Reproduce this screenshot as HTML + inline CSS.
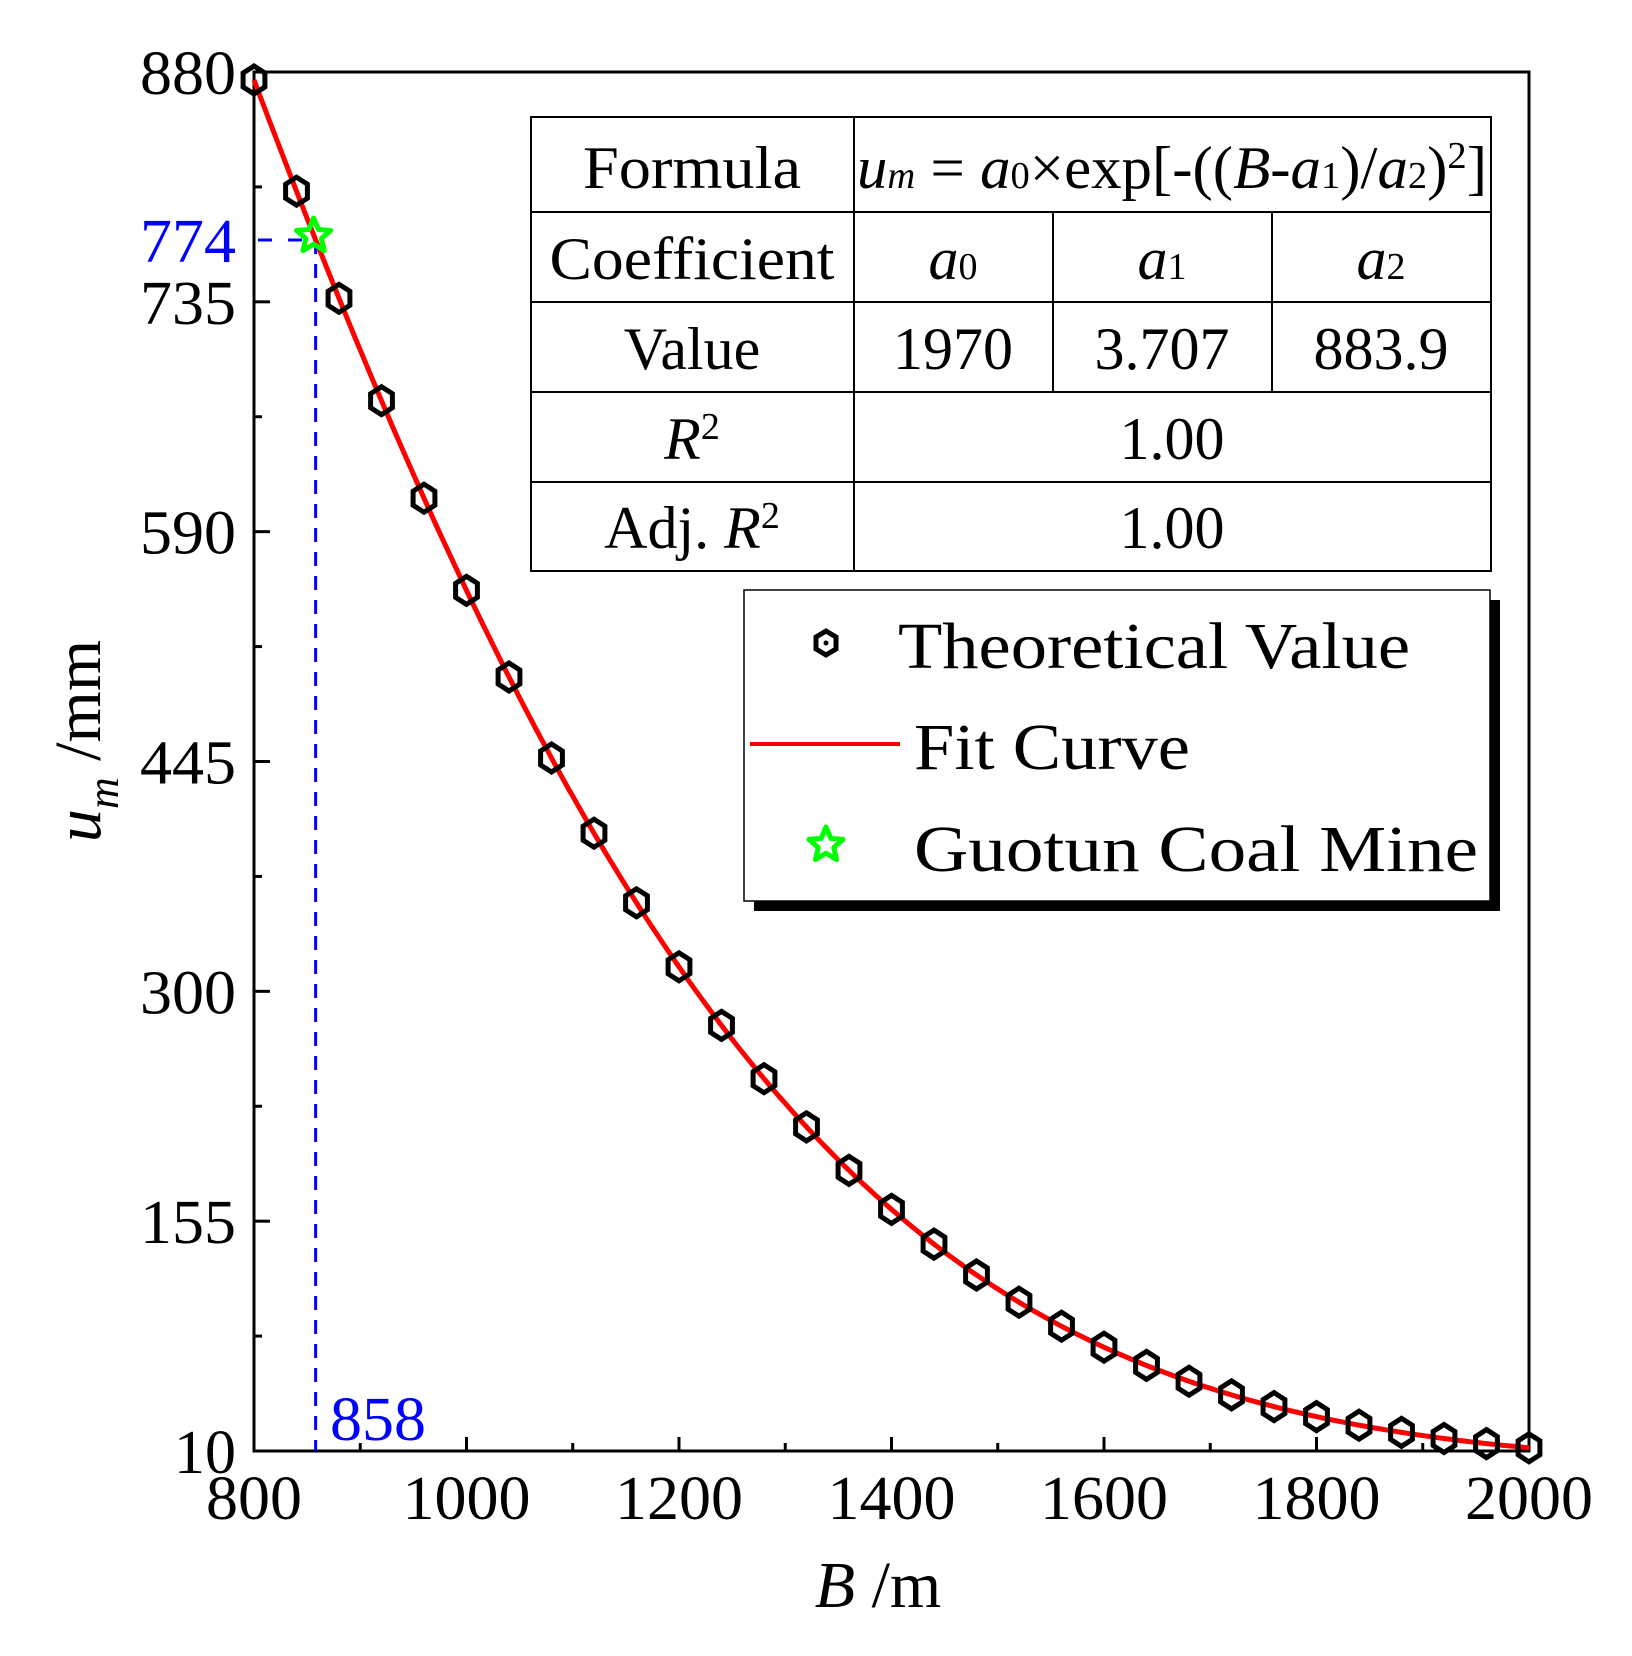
<!DOCTYPE html>
<html><head><meta charset="utf-8"><style>
html,body{margin:0;padding:0;background:#fff}
svg{display:block}
text{font-family:"Liberation Serif",serif}
</style></head><body>
<svg id="s" width="1632" height="1656" viewBox="0 0 1632 1656" xmlns="http://www.w3.org/2000/svg">
<rect width="1632" height="1656" fill="#fff"/>
<g id="plot"></g>
<!-- table -->
<g stroke="#000" stroke-width="2" fill="none">
<rect x="531" y="117" width="960" height="454"/>
<line x1="531" y1="212" x2="1491" y2="212"/>
<line x1="531" y1="302" x2="1491" y2="302"/>
<line x1="531" y1="392" x2="1491" y2="392"/>
<line x1="531" y1="482" x2="1491" y2="482"/>
<line x1="854" y1="117" x2="854" y2="571"/>
<line x1="1053" y1="212" x2="1053" y2="392"/>
<line x1="1272" y1="212" x2="1272" y2="392"/>
</g>
<g font-size="60" text-anchor="middle" fill="#000">
<text x="692" y="188" textLength="218" lengthAdjust="spacingAndGlyphs">Formula</text>
<text x="1172" y="188" textLength="630" lengthAdjust="spacingAndGlyphs"><tspan font-style="italic">u</tspan><tspan font-style="italic" font-size="38">m</tspan> = <tspan font-style="italic">a</tspan><tspan font-size="38">0</tspan>×exp[-((<tspan font-style="italic">B</tspan>-<tspan font-style="italic">a</tspan><tspan font-size="38">1</tspan>)/<tspan font-style="italic">a</tspan><tspan font-size="38">2</tspan>)<tspan font-size="38" dy="-20">2</tspan><tspan dy="20">]</tspan></text>
<text x="692" y="279" textLength="285" lengthAdjust="spacingAndGlyphs">Coefficient</text>
<text x="953" y="279"><tspan font-style="italic">a</tspan><tspan font-size="38">0</tspan></text>
<text x="1162" y="279"><tspan font-style="italic">a</tspan><tspan font-size="38">1</tspan></text>
<text x="1381" y="279"><tspan font-style="italic">a</tspan><tspan font-size="38">2</tspan></text>
<text x="692" y="369">Value</text>
<text x="953" y="369">1970</text>
<text x="1162" y="369">3.707</text>
<text x="1381" y="369">883.9</text>
<text x="692" y="459"><tspan font-style="italic">R</tspan><tspan font-size="38" dy="-20">2</tspan></text>
<text x="1172" y="459">1.00</text>
<text x="692" y="548">Adj. <tspan font-style="italic">R</tspan><tspan font-size="38" dy="-20">2</tspan></text>
<text x="1172" y="548">1.00</text>
</g>
<!-- legend -->
<rect x="754" y="600" width="746" height="311" fill="#000"/>
<rect x="744" y="590" width="746" height="311" fill="#fff" stroke="#000" stroke-width="1.5"/>
<polygon points="826,631 836,637 836,649 826,655 816,649 816,637" fill="none" stroke="#000" stroke-width="5"/>
<circle cx="826" cy="643" r="2.5" fill="#000"/>
<line x1="750" y1="744" x2="900" y2="744" stroke="#f00" stroke-width="4"/>
<text x="898" y="668" font-size="66" textLength="512" lengthAdjust="spacingAndGlyphs">Theoretical Value</text>
<text x="914" y="769" font-size="66" textLength="276" lengthAdjust="spacingAndGlyphs">Fit Curve</text>
<text x="914" y="871" font-size="66" textLength="564" lengthAdjust="spacingAndGlyphs">Guotun Coal  Mine</text>
<g id="legstar"></g>
<!-- axis labels -->
<text x="878" y="1607" font-size="66" text-anchor="middle"><tspan font-style="italic">B</tspan> /m</text>
<text transform="translate(100,741) rotate(-90)" font-size="66" text-anchor="middle"><tspan font-style="italic">u</tspan><tspan font-style="italic" font-size="44" dy="18">m</tspan><tspan dy="-18"> /mm</tspan></text>
</svg>
<script>
const g=document.getElementById('plot');
function X(b){return 254+(b-800)*1275/1200}
function Y(u){return 1451-(u-10)*1379/870}
function f(b){return 1970*Math.exp(-Math.pow((b-3.707)/883.9,2))}
let h='';
h+=`<rect x="254" y="72" width="1275" height="1379" fill="none" stroke="#000" stroke-width="3"/>`;
for(let b=800;b<=2000;b+=100){const x=X(b);const L=(b%200==0)?14:8;h+=`<line x1="${x}" y1="1451" x2="${x}" y2="${1451-L}" stroke="#000" stroke-width="3"/>`;
 if(b%200==0)h+=`<text x="${x}" y="1519" font-size="62" text-anchor="middle" textLength="${b<1000?96:128}" lengthAdjust="spacingAndGlyphs">${b}</text>`;}
for(let i=0;i<=12;i++){const u=10+i*72.5;const y=Y(u);const L=(i%2==0)?16:8;h+=`<line x1="254" y1="${y}" x2="${254+L}" y2="${y}" stroke="#000" stroke-width="3"/>`;
 if(i%2==0)h+=`<text x="236" y="${y+22}" font-size="62" text-anchor="end" ${u>=100?'textLength="96" lengthAdjust="spacingAndGlyphs"':''}>${u}</text>`;}
const gx=X(858),gy=Y(774);
h+=`<line x1="${gx}" y1="${gy}" x2="${gx}" y2="1451" stroke="#00f" stroke-width="3" stroke-dasharray="14,10"/>`;
h+=`<line x1="258" y1="${gy}" x2="${gx}" y2="${gy}" stroke="#00f" stroke-width="3" stroke-dasharray="14,16"/>`;
h+=`<text x="236" y="${gy+22}" font-size="62" text-anchor="end" fill="#00f" textLength="96" lengthAdjust="spacingAndGlyphs">774</text>`;
h+=`<text x="330" y="1440" font-size="62" fill="#00f" textLength="96" lengthAdjust="spacingAndGlyphs">858</text>`;
let p='';for(let b=800;b<=2000;b+=5){p+=(p?'L':'M')+X(b).toFixed(1)+','+Y(f(b)).toFixed(1);}
h+=`<path d="${p}" fill="none" stroke="#f00" stroke-width="5"/>`;
function hex(cx,cy){const r=14;let pts=[];for(let k=0;k<6;k++){const a=Math.PI/2+k*Math.PI/3;pts.push((cx+r*0.9*Math.cos(a)).toFixed(1)+','+(cy-r*Math.sin(a)).toFixed(1));}
 return `<polygon points="${pts.join(' ')}" fill="none" stroke="#000" stroke-width="5"/>`;}
for(let b=800;b<=2000;b+=40){h+=hex(X(b),Y(Math.min(f(b),880)));}
function star(cx,cy,R){let pts=[];for(let k=0;k<10;k++){const r=k%2?R*0.45:R;const a=-Math.PI/2+k*Math.PI/5;pts.push((cx+r*Math.cos(a)).toFixed(1)+','+(cy+r*Math.sin(a)).toFixed(1));}
 return `<polygon points="${pts.join(' ')}" fill="none" stroke="#0f0" stroke-width="5" stroke-linejoin="round"/>`;}
h+=star(gx-2,gy-4,18);
g.innerHTML=h;
document.getElementById('legstar').innerHTML=star(826,845,18);
</script>
</body></html>
